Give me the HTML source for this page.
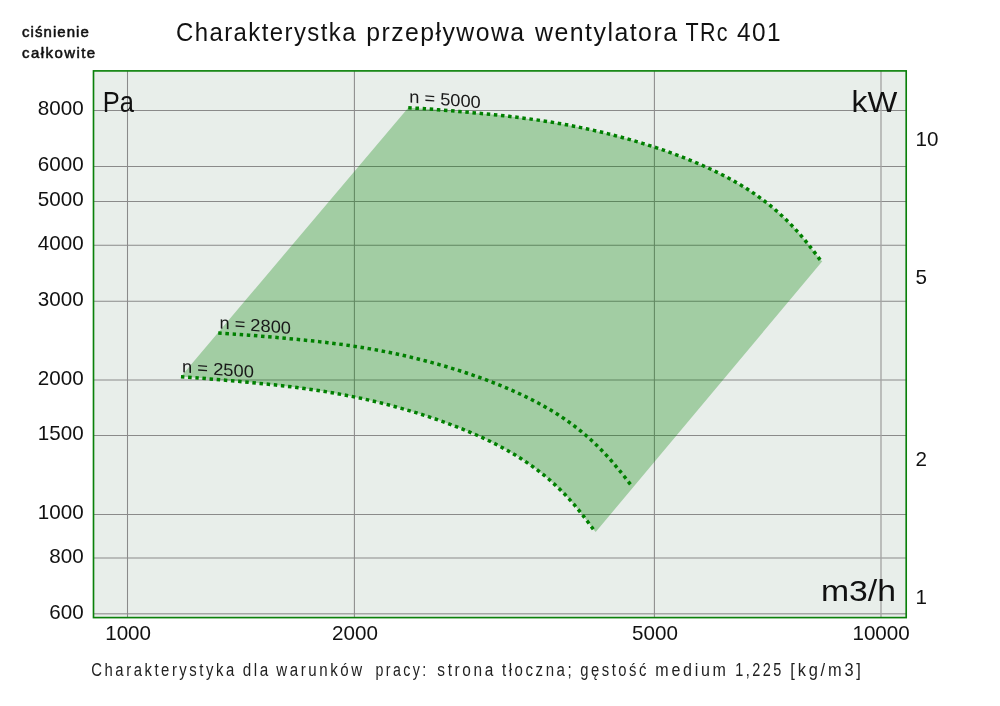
<!DOCTYPE html>
<html lang="pl"><head><meta charset="utf-8"><title>Charakterystka przepływowa wentylatora TRc 401</title>
<style>html,body{margin:0;padding:0;background:#fff}body{width:1000px;height:706px;overflow:hidden}svg{display:block}text{font-family:"Liberation Sans",sans-serif}</style></head><body>
<svg width="1000" height="706" viewBox="0 0 1000 706" fill="#111">
<rect x="0" y="0" width="1000" height="706" fill="#ffffff"/>
<rect x="93.50" y="70.90" width="812.70" height="546.70" fill="#e8eeea"/>
<g stroke="#8a8a8a" stroke-width="1.05" fill="none">
<line x1="93.50" y1="110.50" x2="906.20" y2="110.50"/>
<line x1="93.50" y1="166.40" x2="906.20" y2="166.40"/>
<line x1="93.50" y1="201.50" x2="906.20" y2="201.50"/>
<line x1="93.50" y1="245.20" x2="906.20" y2="245.20"/>
<line x1="93.50" y1="301.30" x2="906.20" y2="301.30"/>
<line x1="93.50" y1="379.90" x2="906.20" y2="379.90"/>
<line x1="93.50" y1="435.50" x2="906.20" y2="435.50"/>
<line x1="93.50" y1="514.40" x2="906.20" y2="514.40"/>
<line x1="93.50" y1="558.00" x2="906.20" y2="558.00"/>
<line x1="93.50" y1="613.80" x2="906.20" y2="613.80" stroke="#a6a6a6" stroke-width="1.5"/>
<line x1="127.50" y1="70.90" x2="127.50" y2="617.60"/>
<line x1="354.40" y1="70.90" x2="354.40" y2="617.60"/>
<line x1="654.40" y1="70.90" x2="654.40" y2="617.60"/>
<line x1="881.00" y1="70.90" x2="881.00" y2="617.60" stroke="#a4a4a4" stroke-width="1.35"/>
</g>
<path d="M180.60 377.00 L408.24 107.71 C411.06 107.89 419.54 108.39 425.16 108.78 C430.77 109.17 436.34 109.61 441.92 110.05 C447.50 110.50 453.07 110.96 458.64 111.44 C464.22 111.92 469.79 112.41 475.38 112.92 C480.96 113.44 486.54 113.97 492.13 114.54 C497.71 115.11 503.30 115.70 508.88 116.34 C514.47 116.98 520.05 117.66 525.62 118.39 C531.19 119.12 536.76 119.89 542.31 120.73 C547.87 121.57 553.41 122.47 558.94 123.43 C564.47 124.39 569.98 125.41 575.48 126.49 C580.98 127.58 586.46 128.74 591.93 129.96 C597.40 131.18 602.85 132.47 608.28 133.83 C613.72 135.18 619.14 136.61 624.54 138.10 C629.94 139.59 635.32 141.15 640.69 142.79 C646.06 144.42 651.41 146.12 656.73 147.90 C662.06 149.67 667.37 151.52 672.64 153.45 C677.92 155.38 683.18 157.39 688.39 159.49 C693.60 161.59 698.78 163.77 703.91 166.06 C709.04 168.36 714.13 170.74 719.15 173.25 C724.16 175.76 729.13 178.37 734.01 181.13 C738.88 183.89 743.70 186.77 748.39 189.81 C753.09 192.84 757.71 196.02 762.20 199.36 C766.69 202.70 771.08 206.19 775.33 209.84 C779.58 213.49 783.71 217.32 787.70 221.27 C791.69 225.23 795.54 229.36 799.27 233.57 C802.99 237.79 806.57 242.18 810.05 246.56 C813.53 250.94 818.47 257.64 820.15 259.86 L822.30 261.30 L595.70 532.00 L593.27 529.25 C591.60 527.01 586.73 520.25 583.27 515.84 C579.81 511.43 576.25 507.03 572.53 502.80 C568.81 498.56 564.96 494.42 560.97 490.46 C556.97 486.50 552.83 482.67 548.58 479.02 C544.32 475.36 539.92 471.87 535.42 468.53 C530.92 465.19 526.29 462.02 521.58 458.99 C516.88 455.95 512.05 453.08 507.17 450.32 C502.29 447.56 497.31 444.95 492.29 442.44 C487.26 439.93 482.16 437.55 477.03 435.25 C471.89 432.96 466.70 430.78 461.48 428.68 C456.26 426.57 451.00 424.57 445.71 422.64 C440.43 420.70 435.11 418.86 429.78 417.08 C424.44 415.30 419.09 413.60 413.71 411.97 C408.34 410.34 402.94 408.78 397.53 407.29 C392.12 405.80 386.69 404.38 381.25 403.03 C375.81 401.67 370.35 400.39 364.87 399.18 C359.39 397.96 353.90 396.82 348.40 395.74 C342.89 394.66 337.37 393.65 331.83 392.70 C326.30 391.75 320.75 390.87 315.19 390.05 C309.63 389.22 304.05 388.45 298.47 387.73 C292.90 387.00 287.31 386.34 281.71 385.70 C276.12 385.07 270.53 384.48 264.93 383.91 C259.34 383.34 253.74 382.81 248.15 382.28 C242.56 381.75 236.98 381.25 231.39 380.76 C225.80 380.26 220.23 379.77 214.64 379.30 C209.05 378.83 203.47 378.36 197.86 377.94 C192.24 377.51 183.77 376.95 180.95 376.75 Z" fill="rgba(0,128,0,0.3)" stroke="none"/>
<g fill="none" stroke="#008000" stroke-width="3.5">
<path d="M408.24 107.71 C411.06 107.89 419.54 108.39 425.16 108.78 C430.77 109.17 436.34 109.61 441.92 110.05 C447.50 110.50 453.07 110.96 458.64 111.44 C464.22 111.92 469.79 112.41 475.38 112.92 C480.96 113.44 486.54 113.97 492.13 114.54 C497.71 115.11 503.30 115.70 508.88 116.34 C514.47 116.98 520.05 117.66 525.62 118.39 C531.19 119.12 536.76 119.89 542.31 120.73 C547.87 121.57 553.41 122.47 558.94 123.43 C564.47 124.39 569.98 125.41 575.48 126.49 C580.98 127.58 586.46 128.74 591.93 129.96 C597.40 131.18 602.85 132.47 608.28 133.83 C613.72 135.18 619.14 136.61 624.54 138.10 C629.94 139.59 635.32 141.15 640.69 142.79 C646.06 144.42 651.41 146.12 656.73 147.90 C662.06 149.67 667.37 151.52 672.64 153.45 C677.92 155.38 683.18 157.39 688.39 159.49 C693.60 161.59 698.78 163.77 703.91 166.06 C709.04 168.36 714.13 170.74 719.15 173.25 C724.16 175.76 729.13 178.37 734.01 181.13 C738.88 183.89 743.70 186.77 748.39 189.81 C753.09 192.84 757.71 196.02 762.20 199.36 C766.69 202.70 771.08 206.19 775.33 209.84 C779.58 213.49 783.71 217.32 787.70 221.27 C791.69 225.23 795.54 229.36 799.27 233.57 C802.99 237.79 806.57 242.18 810.05 246.56 C813.53 250.94 818.47 257.64 820.15 259.86" stroke-dasharray="3.5 3.658"/>
<path d="M218.22 333.06 C221.04 333.24 229.53 333.74 235.15 334.13 C240.76 334.53 246.32 334.97 251.89 335.41 C257.47 335.85 263.02 336.32 268.59 336.79 C274.16 337.27 279.73 337.75 285.31 338.27 C290.89 338.78 296.47 339.30 302.05 339.86 C307.63 340.42 313.22 341.00 318.80 341.63 C324.38 342.26 329.97 342.92 335.54 343.65 C341.11 344.37 346.67 345.13 352.22 345.96 C357.78 346.79 363.32 347.67 368.84 348.63 C374.37 349.58 379.88 350.59 385.37 351.67 C390.87 352.75 396.35 353.90 401.81 355.12 C407.27 356.33 412.72 357.62 418.14 358.97 C423.57 360.32 428.99 361.74 434.38 363.23 C439.78 364.72 445.16 366.28 450.52 367.91 C455.88 369.54 461.23 371.23 466.55 373.01 C471.87 374.78 477.18 376.62 482.45 378.54 C487.72 380.47 492.98 382.46 498.19 384.56 C503.40 386.65 508.59 388.82 513.71 391.11 C518.84 393.39 523.94 395.76 528.95 398.26 C533.97 400.76 538.94 403.36 543.82 406.11 C548.69 408.86 553.51 411.72 558.21 414.75 C562.91 417.77 567.53 420.94 572.02 424.26 C576.51 427.59 580.90 431.07 585.15 434.71 C589.41 438.34 593.54 442.15 597.54 446.09 C601.54 450.02 605.40 454.13 609.16 458.32 C612.91 462.50 616.51 466.86 620.06 471.19 C623.60 475.52 628.68 482.12 630.40 484.31" stroke-dasharray="3.5 3.652"/>
<path d="M180.95 376.75 C183.77 376.95 192.24 377.51 197.86 377.94 C203.47 378.36 209.05 378.83 214.64 379.30 C220.23 379.77 225.80 380.26 231.39 380.76 C236.98 381.25 242.56 381.75 248.15 382.28 C253.74 382.81 259.34 383.34 264.93 383.91 C270.53 384.48 276.12 385.07 281.71 385.70 C287.31 386.34 292.90 387.00 298.47 387.73 C304.05 388.45 309.63 389.22 315.19 390.05 C320.75 390.87 326.30 391.75 331.83 392.70 C337.37 393.65 342.89 394.66 348.40 395.74 C353.90 396.82 359.39 397.96 364.87 399.18 C370.35 400.39 375.81 401.67 381.25 403.03 C386.69 404.38 392.12 405.80 397.53 407.29 C402.94 408.78 408.34 410.34 413.71 411.97 C419.09 413.60 424.44 415.30 429.78 417.08 C435.11 418.86 440.43 420.70 445.71 422.64 C451.00 424.57 456.26 426.57 461.48 428.68 C466.70 430.78 471.89 432.96 477.03 435.25 C482.16 437.55 487.26 439.93 492.29 442.44 C497.31 444.95 502.29 447.56 507.17 450.32 C512.05 453.08 516.88 455.95 521.58 458.99 C526.29 462.02 530.92 465.19 535.42 468.53 C539.92 471.87 544.32 475.36 548.58 479.02 C552.83 482.67 556.97 486.50 560.97 490.46 C564.96 494.42 568.81 498.56 572.53 502.80 C576.25 507.03 579.81 511.43 583.27 515.84 C586.73 520.25 591.60 527.01 593.27 529.25" stroke-dasharray="3.5 3.667"/>
</g>
<rect x="93.50" y="70.90" width="812.70" height="546.70" fill="none" stroke="#0a800a" stroke-width="1.65"/>
<g font-size="17.5" fill="#1a1a1a">
<text transform="translate(409.2 102.5) skewY(4.6)" textLength="71.5" lengthAdjust="spacingAndGlyphs">n = 5000</text>
<text transform="translate(219.4 328.4) skewY(4.4)" textLength="71.6" lengthAdjust="spacingAndGlyphs">n = 2800</text>
<text transform="translate(182.1 372.2) skewY(4.5)" textLength="71.8" lengthAdjust="spacingAndGlyphs">n = 2500</text>
</g>
<g font-size="20.6" text-anchor="end">
<text x="83.6" y="115.40">8000</text>
<text x="83.6" y="171.30">6000</text>
<text x="83.6" y="206.40">5000</text>
<text x="83.6" y="250.10">4000</text>
<text x="83.6" y="306.20">3000</text>
<text x="83.6" y="384.80">2000</text>
<text x="83.6" y="440.40">1500</text>
<text x="83.6" y="519.30">1000</text>
<text x="83.6" y="562.90">800</text>
<text x="83.6" y="618.70">600</text>
</g>
<g font-size="20.6" text-anchor="middle">
<text x="128.10" y="639.8">1000</text>
<text x="355.00" y="639.8">2000</text>
<text x="655.00" y="639.8">5000</text>
<text x="881.10" y="639.8">10000</text>
</g>
<g font-size="20.6">
<text x="915.6" y="146.30">10</text>
<text x="915.6" y="284.00">5</text>
<text x="915.6" y="466.30">2</text>
<text x="915.6" y="603.80">1</text>
</g>
<g font-size="29.5">
<text x="102.8" y="112" textLength="31.2" lengthAdjust="spacingAndGlyphs" font-size="30">Pa</text>
<text x="851.6" y="111.5" textLength="45.6" lengthAdjust="spacingAndGlyphs">kW</text>
<text x="821" y="601.3" textLength="75" lengthAdjust="spacingAndGlyphs">m3/h</text>
</g>
<text font-size="25.5" y="41.2" letter-spacing="1.5"><tspan x="176.0" textLength="180.9" lengthAdjust="spacingAndGlyphs">Charakterystka</tspan> <tspan x="366.3" textLength="159.2" lengthAdjust="spacingAndGlyphs">przepływowa</tspan> <tspan x="535.0" textLength="143.5" lengthAdjust="spacingAndGlyphs">wentylatora</tspan> <tspan x="685.6" textLength="43.2" lengthAdjust="spacingAndGlyphs">TRc</tspan> <tspan x="737.0" textLength="45.0" lengthAdjust="spacingAndGlyphs">401</tspan></text>
<g font-size="15" stroke="#111" stroke-width="0.55" stroke-linejoin="round"><text x="22" y="36.6" textLength="66.8" lengthAdjust="spacing">ciśnienie</text><text x="22" y="57.6" textLength="73.2" lengthAdjust="spacing">całkowite</text></g>
<text font-size="17.6" y="675.7" fill="#222" letter-spacing="3"><tspan x="91.3" textLength="145.4" lengthAdjust="spacingAndGlyphs">Charakterystyka</tspan> <tspan x="242.7" textLength="28.2" lengthAdjust="spacingAndGlyphs">dla</tspan> <tspan x="276.3" textLength="88.4" lengthAdjust="spacingAndGlyphs">warunków</tspan> <tspan x="375.5" textLength="53.2" lengthAdjust="spacingAndGlyphs">pracy:</tspan> <tspan x="437.3" textLength="58.6" lengthAdjust="spacingAndGlyphs">strona</tspan> <tspan x="501.9" textLength="72.4" lengthAdjust="spacingAndGlyphs">tłoczna;</tspan> <tspan x="580.3" textLength="68.6" lengthAdjust="spacingAndGlyphs">gęstość</tspan> <tspan x="655.3" textLength="73.4" lengthAdjust="spacingAndGlyphs">medium</tspan> <tspan x="735.3" textLength="48.4" lengthAdjust="spacingAndGlyphs">1,225</tspan> <tspan x="790.3" textLength="73.4" lengthAdjust="spacingAndGlyphs">[kg/m3]</tspan></text>
</svg></body></html>
